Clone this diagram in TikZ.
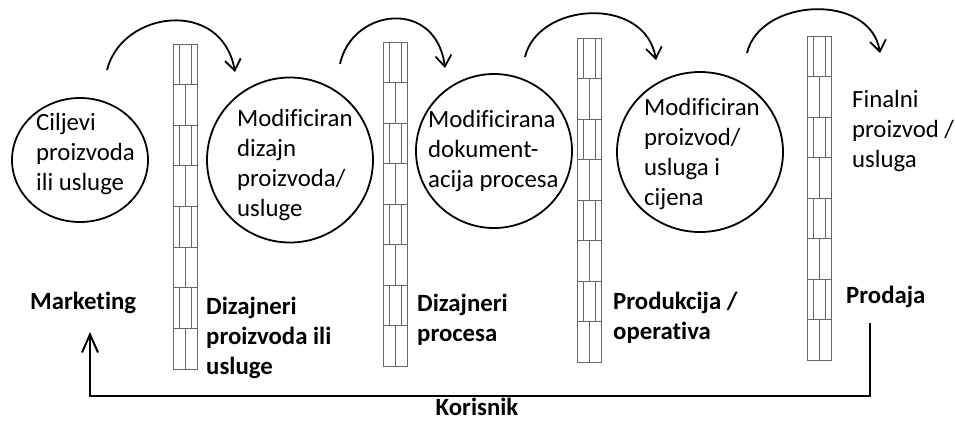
\documentclass[tikz,border=0pt]{standalone}
\usepackage{fontspec}
\setmainfont{Carlito}[Ligatures=NoCommon]
\usetikzlibrary{shapes.geometric,arrows.meta}
\begin{document}
\begin{tikzpicture}[x=1pt,y=-1pt]
  \useasboundingbox (0,0) rectangle (955,421);
  \tikzstyle{stage}=[ellipse, draw, line width=1.8pt, inner sep=0pt]
  \tikzstyle{note}=[anchor=north west, align=left, inner sep=0pt, font=\fontsize{24.8}{30}\selectfont]
  \tikzstyle{team}=[note, font=\fontsize{24.8}{30}\selectfont\bfseries]
  \tikzstyle{flow}=[line width=1.8pt, -{Straight Barb[length=11pt, width=16pt]}]
  \tikzstyle{brick}=[gray!80!black, line width=0.8pt]

  % Zidovi izmedju odjela.
  \foreach \x/\ya/\yb in {173/44/369, 383/42/366, 577/38/362, 807/36/360} {
    \pgfmathsetmacro{\rowh}{(\yb-\ya)/8}
    \draw[brick] (\x,\ya) rectangle (\x+24,\yb);
    \foreach \row in {1,...,7}
      \draw[brick] (\x,\ya+\row*\rowh) -- (\x+24,\ya+\row*\rowh);
    \foreach \row in {0,2,4,6} {
      \draw[brick] (\x+6,\ya+\row*\rowh) -- (\x+6,\ya+\row*\rowh+\rowh);
      \draw[brick] (\x+18,\ya+\row*\rowh) -- (\x+18,\ya+\row*\rowh+\rowh);
    }
    \foreach \row in {1,3,5,7}
      \draw[brick] (\x+12,\ya+\row*\rowh) -- (\x+12,\ya+\row*\rowh+\rowh);
  }

  \node[stage, minimum width=136pt, minimum height=124pt] (goal)   at (80,160)  {};
  \node[stage, minimum width=166pt, minimum height=165pt] (design) at (290,160) {};
  \node[stage, minimum width=156pt, minimum height=154pt] (docs)   at (494,151) {};
  \node[stage, minimum width=166pt, minimum height=160pt] (offer)  at (700,152) {};

  \node[note] (goaltext)   at (36,113)  {Ciljevi\\proizvoda\\ili usluge};
  \node[note] (designtext) at (237,109) {Modificiran\\dizajn\\proizvoda/\\usluge};
  \node[note] (docstext)   at (428,110) {Modificirana\\dokument-\\acija procesa};
  \node[note] (offertext)  at (644,98)  {Modificiran\\proizvod/\\usluga i\\cijena};
  \node[note] (final)      at (852,90)  {Finalni\\proizvod /\\usluga};

  \node[team] (mkt)   at (30,292)  {Marketing};
  \node[team] (pdes)  at (206,297) {Dizajneri\\proizvoda ili\\usluge};
  \node[team] (prdes) at (417,294) {Dizajneri\\procesa};
  \node[team] (ops)   at (613,292) {Produkcija /\\operativa};
  \node[team] (sales) at (846,286) {Prodaja};
  \node[team, anchor=base] (user) at (477,415) {Korisnik};

  % Prebacivanje preko zida.
  \coordinate (s1) at (107,70);  \coordinate (e1) at (235,72);
  \coordinate (s2) at (340,64);  \coordinate (e2) at (445,68);
  \coordinate (s3) at (525,57);  \coordinate (e3) at (656,60);
  \coordinate (s4) at (747,53);  \coordinate (e4) at (880,53);
  \draw[flow] (s1) .. controls (122,10) and (222,-2) .. (e1);
  \draw[flow] (s2) .. controls (352,8) and (436,-2) .. (e2);
  \draw[flow] (s3) .. controls (538,2) and (645,-5) .. (e3);
  \draw[flow] (s4) .. controls (760,-2) and (870,-8) .. (e4);

  % Povratna veza od korisnika.
  \coordinate (back) at (870,323);
  \coordinate (turn) at (870,396);
  \coordinate (mktin) at (90,332);
  \draw[line width=2pt, -{Straight Barb[length=18pt, width=16pt]}] (back) -- (turn) -| (mktin);
\end{tikzpicture}
\end{document}
